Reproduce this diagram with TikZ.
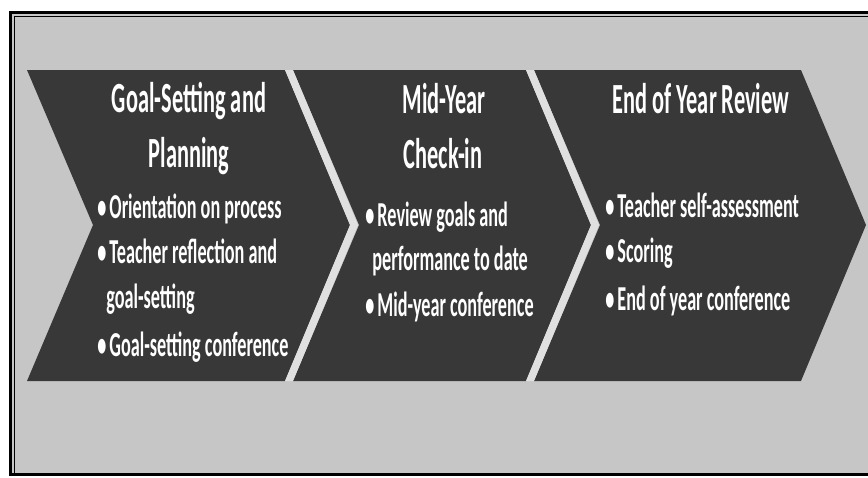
\documentclass[tikz,border=0pt]{standalone}
\usepackage{fontspec}
\setmainfont{Carlito}[FakeStretch=0.52]
\usepackage{tikz}
\usetikzlibrary{positioning}

\definecolor{panelgray}{HTML}{C6C6C6}
\definecolor{phasegray}{HTML}{383838}
\definecolor{gapgray}{HTML}{E0E0E0}

\newcommand{\bul}{•\kern1.5pt}

\begin{document}
\begin{tikzpicture}[
    x=0.5pt, y=-0.5pt,
    phase/.style={fill=phasegray},
    gap/.style={fill=gapgray},
    head/.style={text=white, anchor=base, inner sep=0,
        font=\bfseries\fontsize{21.5}{26}\selectfont},
    item/.style={text=white, anchor=base west, inner sep=0,
        font=\bfseries\fontsize{17.5}{21}\selectfont}
]
\useasboundingbox (0,0) rectangle (868,477);

% Panel and its frame
\fill[panelgray] (10,12) rectangle (868,474);
\draw[line width=1.5pt] (868,12) -- (10,12) -- (10,474) -- (868,474);
\draw[line width=0.7pt] (868,16.5) -- (14.5,16.5) -- (14.5,474);

% Chevrons
\foreach \l/\r/\n in {27/285/plan, 293/526/mid, 534/801/end}{
    \fill[phase] (\l,70) -- (\r,70) -- (\r+65,225) -- (\r,381)
        -- (\l,381) -- (\l+66,225) -- cycle;
    \coordinate (\n) at (\l,70);
}

% Light gaps between chevrons
\foreach \l in {285, 526}{
    \fill[gap] (\l,70) -- (\l+8,70) -- (\l+73,225) -- (\l+8,381)
        -- (\l,381) -- (\l+65,225) -- cycle;
}

% Titles
\node[head] (plan1) at (189,112) {Goal-Setting and};
\node[head] (plan2) at (189,167) {Planning};
\node[head] (mid1) at (444,113) {Mid-Year};
\node[head] (mid2) at (443,168) {Check-in};
\node[head] (end1) at (701,113) {End of Year Review};

% Steps of each phase
\node[item] (planA) at (97,218) {\bul Orientation on process};
\node[item] (planB) at (97,263) {\bul Teacher reflection and};
\node[item] (planC) at (106,308) {goal-setting};
\node[item] (planD) at (97,356) {\bul Goal-setting conference};

\node[item] (midA) at (365,226) {\bul Review goals and};
\node[item] (midB) at (372,270) {performance to date};
\node[item] (midC) at (365,316) {\bul Mid-year conference};

\node[item] (endA) at (605,217) {\bul Teacher self-assessment};
\node[item] (endB) at (605,262) {\bul Scoring};
\node[item] (endC) at (605,310) {\bul End of year conference};

\end{tikzpicture}
\end{document}
